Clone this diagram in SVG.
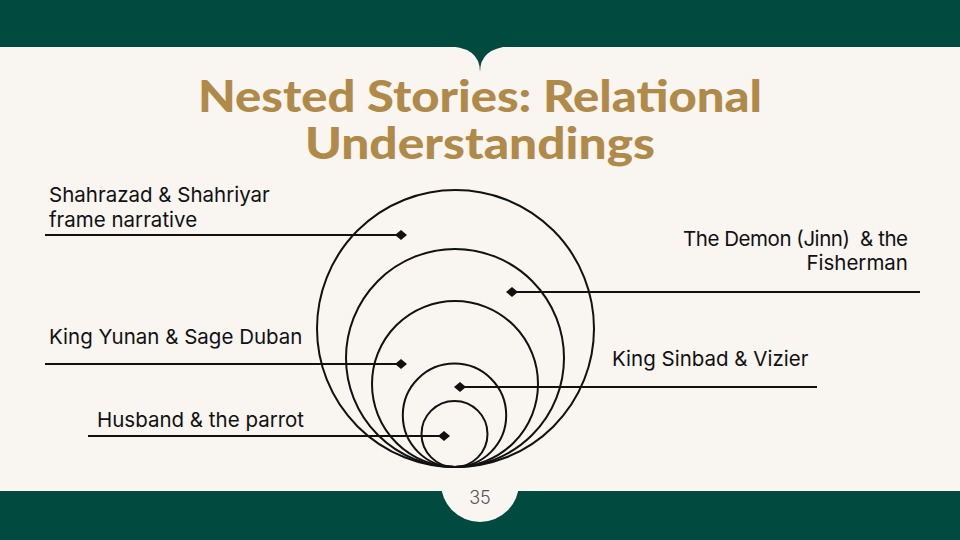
<svg xmlns="http://www.w3.org/2000/svg" width="960" height="540" viewBox="0 0 960 540">
<defs>
<style>
.band{fill:#004A40}
.title{font-family:"Lato","Noto Sans",sans-serif;font-weight:900;font-size:44px;fill:#B08A48;text-anchor:middle}
.lbl{font-family:"Inter","Noto Sans",sans-serif;font-size:20.5px;fill:#111111}
.ring{fill:none;stroke:#111111;stroke-width:2}
.conn{stroke:#111111;stroke-width:2;fill:none;marker-end:url(#dia)}
.pg{font-family:"Inter","Noto Sans",sans-serif;font-weight:300;font-size:18px;fill:#555555;text-anchor:middle}
</style>
<marker id="dia" viewBox="0 0 12 10" refX="6" refY="5" markerWidth="6" markerHeight="5" orient="auto" markerUnits="strokeWidth">
<path d="M0,5 L6,0 L12,5 L6,10 Z" fill="#111111"/>
</marker>
</defs>
<rect width="960" height="540" fill="#F9F5F1"/>
<g id="top-band">
<rect class="band" x="0" y="0" width="960" height="47"/>
<path class="band" d="M444,46 Q480,46 480,72 Q480,46 516,46 Z"/>
</g>
<g id="bottom-band">
<rect class="band" x="0" y="491" width="960" height="49"/>
<circle cx="480" cy="483" r="39" fill="#F9F5F1"/>
<text class="pg" x="480" y="504">35</text>
</g>
<g id="title">
<text class="title" x="480" y="112" textLength="564" lengthAdjust="spacingAndGlyphs">Nested Stories: Relational</text>
<text class="title" x="480" y="159" textLength="350" lengthAdjust="spacingAndGlyphs">Understandings</text>
</g>
<g id="rings">
<circle class="ring" cx="455.5" cy="328.5" r="138.5"/>
<circle class="ring" cx="455" cy="358" r="109"/>
<circle class="ring" cx="455" cy="384" r="83"/>
<circle class="ring" cx="454.5" cy="415.3" r="51.7"/>
<circle class="ring" cx="454.5" cy="434" r="33"/>
</g>
<g id="connectors">
<line class="conn" x1="45" y1="235" x2="401" y2="235"/>
<line class="conn" x1="920" y1="292" x2="512" y2="292"/>
<line class="conn" x1="45" y1="364" x2="401" y2="364"/>
<line class="conn" x1="817" y1="387" x2="460" y2="387"/>
<line class="conn" x1="88" y1="436" x2="444" y2="436"/>
</g>
<g id="node-shahrazad">
<text class="lbl" x="49" y="202">Shahrazad &amp; Shahriyar</text>
<text class="lbl" x="49" y="227">frame narrative</text>
</g>
<g id="node-demon">
<text class="lbl" x="908" y="246" text-anchor="end" xml:space="preserve" textLength="225" lengthAdjust="spacing">The Demon (Jinn)  &amp; the</text>
<text class="lbl" x="908" y="270" text-anchor="end">Fisherman</text>
</g>
<g id="node-yunan">
<text class="lbl" x="49" y="344">King Yunan &amp; Sage Duban</text>
</g>
<g id="node-sinbad">
<text class="lbl" x="612" y="366">King Sinbad &amp; Vizier</text>
</g>
<g id="node-husband">
<text class="lbl" x="97" y="427">Husband &amp; the parrot</text>
</g>
</svg>
